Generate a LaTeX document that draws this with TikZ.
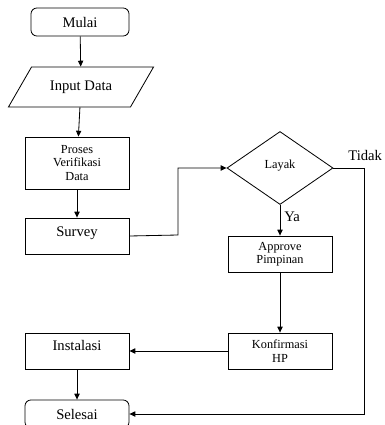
\documentclass[tikz,border=0pt]{standalone}
\usepackage{fontspec}
\setmainfont{Liberation Serif}
\usepackage{tikz}
\usetikzlibrary{shapes,arrows.meta,positioning,calc}

\begin{document}
\begin{tikzpicture}[x=0.03cm,y=-0.03cm,
    line width=0.7pt,
    arr/.style={-{Triangle[length=5pt,width=4.5pt]}},
    box/.style={draw,rectangle,minimum width=104*0.03cm,minimum height=36*0.03cm,inner sep=1pt,align=center,font=\fontsize{10.5}{11.5}\selectfont},
    bigbox/.style={box,font=\fontsize{12.5}{13}\selectfont},
    term/.style={bigbox,rounded corners=5pt,minimum height=28*0.03cm}]
    \useasboundingbox (0,0) rectangle (384,425);

    % Nodes
    \node[term,minimum width=98*0.03cm] (mulai) at (80,22) {Mulai};
    \node[bigbox,trapezium,trapezium left angle=45,trapezium right angle=135,
          minimum width=146*0.03cm,minimum height=40*0.03cm,trapezium stretches=true] (input) at (81,87) {Input Data};
    \node[box,minimum height=52*0.03cm] (proses) at (77,163) {Proses\\Verifikasi\\Data};
    \node[bigbox,text depth=8pt] (survey) at (77,236) {Survey};
    \node[box,diamond,minimum width=106*0.03cm,minimum height=73*0.03cm,inner sep=0pt,text depth=6pt] (layak) at (280,168) {Layak};
    \node[box] (approve) at (280,254) {Approve\\Pimpinan};
    \node[box] (konfirmasi) at (280,351) {Konfirmasi\\HP};
    \node[bigbox,text depth=10pt] (instalasi) at (77,351) {Instalasi};
    \node[term,minimum width=104*0.03cm] (selesai) at (77,414) {Selesai};

    % Connectors
    \draw[arr] (mulai) -- (input);
    \draw[arr] (input) -- (proses);
    \draw[arr] (proses) -- (survey);
    \draw[arr] (survey.east) -- (178,235) |- (layak.west);
    \draw[arr] (layak.south) -- node[right,pos=0.4,font=\fontsize{12.5}{13}\selectfont] {Ya} (approve.north);
    \draw[arr] (approve) -- (konfirmasi);
    \draw[arr] (konfirmasi) -- (instalasi);
    \draw[arr] (instalasi) -- (selesai);
    \draw[arr] (layak.east) -- (364,168) |- (selesai.east);
    \node[font=\fontsize{12.5}{13}\selectfont,anchor=west,inner sep=0pt] (tidak) at (348,155) {Tidak};
\end{tikzpicture}
\end{document}
